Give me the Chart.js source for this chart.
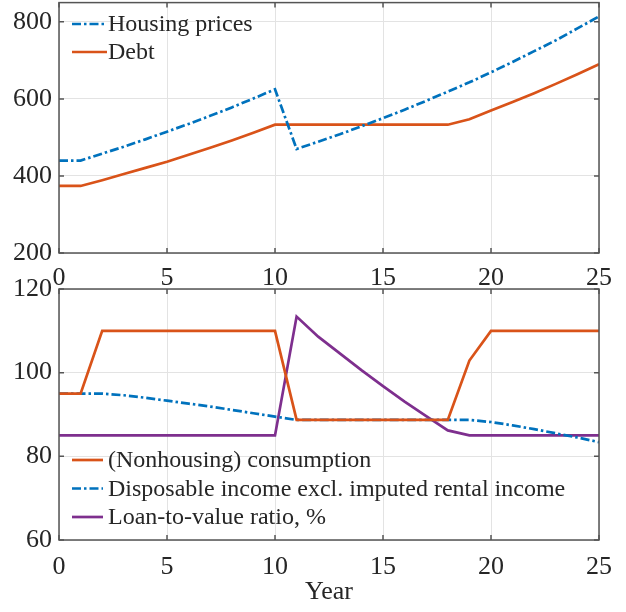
<!DOCTYPE html>
<html>
<head>
<meta charset="utf-8">
<title>Housing prices, debt and consumption</title>
<script src="https://cdn.jsdelivr.net/npm/chart.js@4.4.1/dist/chart.umd.min.js"></script>
<style>
    body { margin: 0; background: #fff; }
    #wrap { position: relative; width: 626px; height: 612px; overflow: hidden; }
    canvas { position: absolute; left: 0; }
</style>
</head>
<body>
<div id="wrap">
    <canvas id="topChart" width="626" height="320" style="top:-20px;width:626px;height:320px"></canvas>
    <canvas id="bottomChart" width="626" height="352" style="top:260px;width:626px;height:352px"></canvas>
</div>
<script>
    // years 0..25
    const years = [0, 1, 2, 3, 4, 5, 6, 7, 8, 9, 10, 11, 12, 13, 14, 15, 16, 17, 18, 19, 20, 21, 22, 23, 24, 25]

    // top panel
    const housingPrices = [440, 440, 458, 476, 495, 515, 535, 556, 578, 601, 625, 470, 489, 508, 529, 550, 572, 595, 619, 643, 669, 696, 724, 752, 783, 814]
    const debt = [374, 374, 389, 405, 421, 437, 455, 473, 492, 512, 533, 533, 533, 533, 533, 533, 533, 533, 533, 547, 570, 592, 615, 639, 664, 690]

    // bottom panel
    const consumption = [95, 95, 110, 110, 110, 110, 110, 110, 110, 110, 110, 88.7, 88.7, 88.7, 88.7, 88.7, 88.7, 88.7, 88.7, 102.9, 110, 110, 110, 110, 110, 110]
    const income = [95, 95, 95, 94.6, 94.0, 93.3, 92.6, 91.9, 91.1, 90.3, 89.5, 88.7, 88.7, 88.7, 88.7, 88.7, 88.7, 88.7, 88.7, 88.7, 88.2, 87.4, 86.5, 85.5, 84.5, 83.4]
    const ltv = [85, 85, 85, 85, 85, 85, 85, 85, 85, 85, 85, 113.4, 108.6, 104.6, 100.6, 96.8, 93.1, 89.6, 86.2, 85, 85, 85, 85, 85, 85, 85]

    const xTicks = [0, 5, 10, 15, 20, 25]
    const topYTicks = [200, 400, 600, 800]
    const bottomYTicks = [60, 80, 100, 120]

    const BLUE = '#0072BD'
    const ORANGE = '#D95319'
    const PURPLE = '#7E2F8E'
    const DASHDOT = [9, 3, 2.5, 3]

    Chart.defaults.font.family = "'Liberation Serif', 'Times New Roman', serif"
    Chart.defaults.color = '#262626'

    const pts = (vals) => years.map((x, i) => ({ x: x, y: vals[i] }))

    const line = (label, vals, color, dash) => ({
        label: label,
        data: pts(vals),
        borderColor: color,
        backgroundColor: color,
        borderWidth: 2.7,
        borderDash: dash || [],
        pointRadius: 0,
        tension: 0,
        fill: false
    })

    // box round the plot with inward ticks, plus a legend drawn inside the plot
    const boxAndLegend = {
        id: 'boxAndLegend',
        afterDraw(chart, args, opts) {
            const ctx = chart.ctx
            const a = chart.chartArea
            const xs = chart.scales.x
            const ys = chart.scales.y
            ctx.save()
            ctx.strokeStyle = '#555'
            ctx.lineWidth = 1.5
            ctx.setLineDash([])
            ctx.strokeRect(a.left, a.top, a.right - a.left, a.bottom - a.top)
            ctx.beginPath()
            xs.ticks.forEach((t) => {
                const px = xs.getPixelForValue(t.value)
                ctx.moveTo(px, a.bottom); ctx.lineTo(px, a.bottom - 5)
                ctx.moveTo(px, a.top); ctx.lineTo(px, a.top + 5)
            })
            ys.ticks.forEach((t) => {
                const py = ys.getPixelForValue(t.value)
                ctx.moveTo(a.left, py); ctx.lineTo(a.left + 5, py)
                ctx.moveTo(a.right, py); ctx.lineTo(a.right - 5, py)
            })
            ctx.stroke()

            // legend
            ctx.font = opts.fontSize + "px 'Liberation Serif', 'Times New Roman', serif"
            ctx.textBaseline = 'middle'
            ctx.textAlign = 'left'
            chart.data.datasets.forEach((ds, i) => {
                const y = opts.y + i * opts.row
                ctx.strokeStyle = ds.borderColor
                ctx.lineWidth = 2.7
                ctx.setLineDash(ds.borderDash || [])
                ctx.beginPath()
                ctx.moveTo(opts.x, y)
                ctx.lineTo(opts.x + opts.len, y)
                ctx.stroke()
                ctx.fillStyle = '#262626'
                ctx.fillText(ds.label, opts.textX, y + 1)
            })
            ctx.restore()
        }
    }

    const makeChart = (canvasId, datasets, yMin, yMax, yTicks, cfg) => {
        const gridColor = '#e3e3e3'
        const xScale = {
            type: 'linear',
            min: 0,
            max: 25,
            afterBuildTicks: (s) => { s.ticks = xTicks.map((v) => ({ value: v })) },
            afterFit: (s) => { s.height = cfg.xHeight },
            grid: { color: gridColor, drawTicks: false },
            border: { display: false },
            ticks: { padding: cfg.xPad, font: { size: 26 }, maxRotation: 0 }
        }
        if (cfg.title) {
            xScale.title = { display: true, text: cfg.title, font: { size: 26 }, padding: { top: 0, bottom: 4 } }
        }
        return new Chart(document.getElementById(canvasId), {
            type: 'line',
            data: { datasets: datasets },
            options: {
                responsive: false,
                animation: false,
                devicePixelRatio: 1,
                layout: { padding: { left: 0, right: 27, top: cfg.padTop, bottom: 0 } },
                plugins: {
                    legend: { display: false },
                    tooltip: { enabled: false },
                    boxAndLegend: cfg.legend
                },
                scales: {
                    x: xScale,
                    y: {
                        type: 'linear',
                        min: yMin,
                        max: yMax,
                        afterBuildTicks: (s) => { s.ticks = yTicks.map((v) => ({ value: v })) },
                        afterFit: (s) => { s.width = 59 },
                        grid: { color: gridColor, drawTicks: false },
                        border: { display: false },
                        ticks: { padding: 7, font: { size: 26 } }
                    }
                }
            },
            plugins: [boxAndLegend]
        })
    }

    makeChart('topChart', [
        line('Housing prices', housingPrices, BLUE, DASHDOT),
        line('Debt', debt, ORANGE)
    ], 200, 850, topYTicks, {
        padTop: 20, xHeight: 47, xPad: 10,
        legend: { x: 72, y: 44, row: 28, len: 35, textX: 108, fontSize: 24 }
    })

    makeChart('bottomChart', [
        line('(Nonhousing) consumption', consumption, ORANGE),
        line('Disposable income excl. imputed rental income', income, BLUE, DASHDOT),
        line('Loan-to-value ratio, %', ltv, PURPLE)
    ], 60, 120, bottomYTicks, {
        padTop: 29, xHeight: 72, xPad: 12, title: 'Year',
        legend: { x: 72, y: 200, row: 28.5, len: 31, textX: 108, fontSize: 24 }
    })
</script>
</body>
</html>
